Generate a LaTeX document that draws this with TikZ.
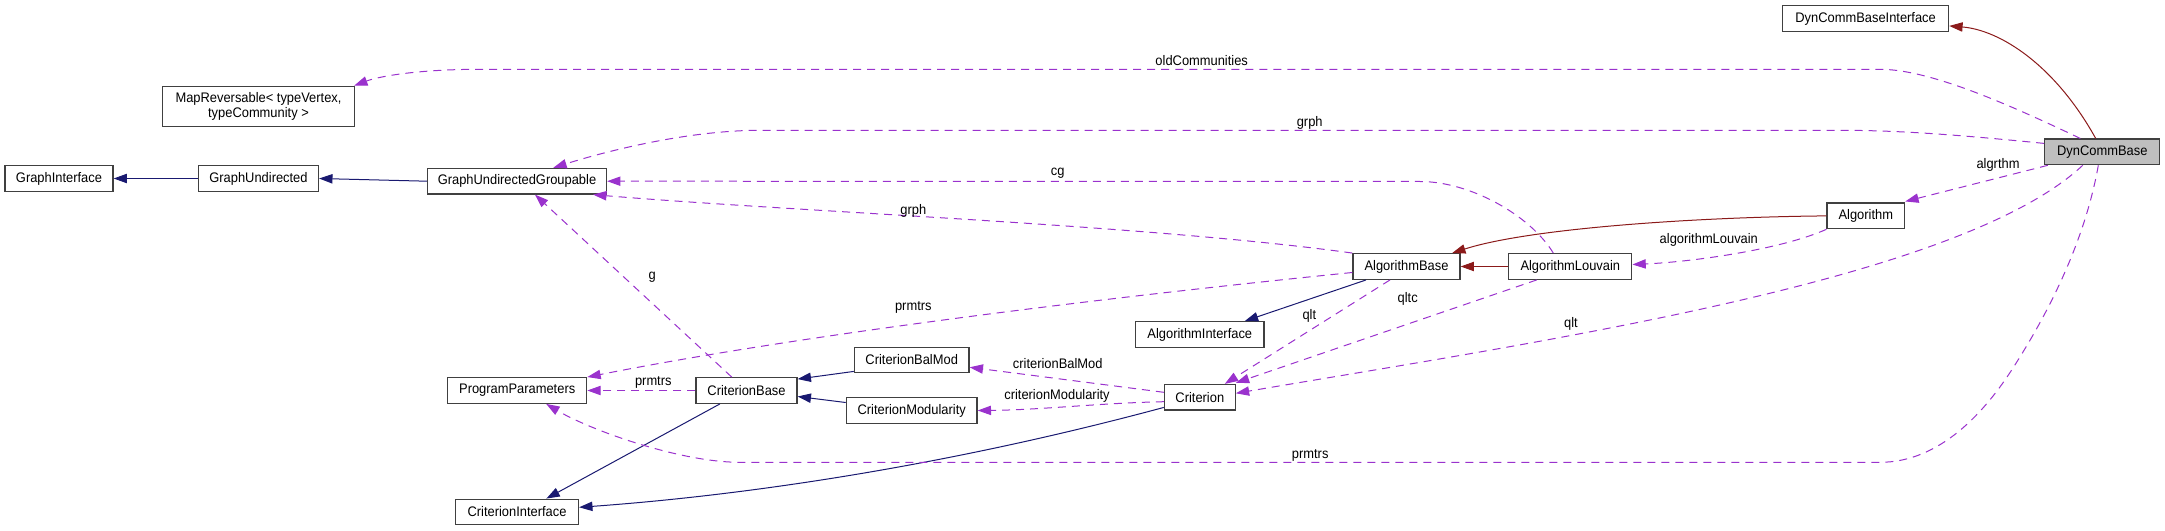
\documentclass[tikz,border=0pt]{standalone}
\usepackage{fontspec}
\setmainfont[FakeStretch=0.93]{Liberation Sans}
\usetikzlibrary{arrows.meta,calc}
\definecolor{inhblue}{HTML}{191970}
\definecolor{inhred}{HTML}{8B1A1A}
\definecolor{usecol}{HTML}{9A32CD}
\definecolor{bord}{HTML}{404040}
\definecolor{selfill}{HTML}{BFBFBF}
\begin{document}
\begin{tikzpicture}[x=0.75pt,y=-0.75pt,
  font=\fontsize{10.4}{11.6}\selectfont,
  cls/.style={draw=bord, line width=0.95pt, fill=white, inner sep=0pt, align=center, minimum height=19.2pt},
  tip/.style={-{Triangle[length=10pt,width=7pt]}},
  inhb/.style={draw=inhblue, line width=0.75pt, tip},
  inhr/.style={draw=inhred, line width=0.75pt, tip},
  usage/.style={draw=usecol, line width=0.75pt, dash pattern=on 6pt off 4.5pt, tip},
  lbl/.style={inner sep=0pt, text=black}]
\useasboundingbox (0,0) rectangle (2165,531);

% nodes
\node[cls, minimum width=124.5pt] (DCBI) at (1865.6,18.5) {DynCommBaseInterface};
\node[cls, minimum width=86.25pt, fill=selfill] (DCB) at (2102.3,151.9) {DynCommBase};
\node[cls, minimum width=144pt, minimum height=30.3pt] (MapRev) at (258.5,106.5) {MapReversable\textless{} typeVertex,\\ typeCommunity \textgreater};
\node[cls, minimum width=81pt] (GI) at (59,178.5) {GraphInterface};
\node[cls, minimum width=90pt] (GU) at (258.5,178.5) {GraphUndirected};
\node[cls, minimum width=134.25pt] (GUG) at (517,181.2) {GraphUndirectedGroupable};
\node[cls, minimum width=58.2pt] (Alg) at (1865.8,215.9) {Algorithm};
\node[cls, minimum width=80.25pt] (AB) at (1406.5,266.5) {AlgorithmBase};
\node[cls, minimum width=92.25pt] (AL) at (1570.3,266.5) {AlgorithmLouvain};
\node[cls, minimum width=96.3pt] (AI) at (1199.8,334.5) {AlgorithmInterface};
\node[cls, minimum width=86pt] (CBM) at (911.7,360) {CriterionBalMod};
\node[cls, minimum width=75.75pt] (CB) at (746.5,390.5) {CriterionBase};
\node[cls, minimum width=98pt] (CM) at (911.7,410.5) {CriterionModularity};
\node[cls, minimum width=53.1pt] (Crit) at (1199.8,397.3) {Criterion};
\node[cls, minimum width=104.25pt] (PP) at (517.2,390.5) {ProgramParameters};
\node[cls, minimum width=92.25pt] (CI) at (517,512) {CriterionInterface};

% inheritance
\draw[inhb] (GUG.west) -- (GU.east);
\draw[inhb] (GU.west) -- (GI.east);
\draw[inhr] ($(DCB.north)+(-6.6,0)$) .. controls (2055,65) and (2000,30) .. ($(DCBI.south east)+(0,-6)$);
\draw[inhr] (Alg.west) .. controls (1700,217) and (1530,228) .. ($(AB.north east)+(-8.5,0)$);
\draw[inhr] (AL.west) -- (AB.east);
\draw[inhb] ($(AB.south west)+(13.7,0)$) -- ($(AI.north)+(45,0)$);
\draw[inhb] ($(CBM.south west)+(0,-2)$) -- ($(CB.north east)+(0,2)$);
\draw[inhb] ($(CM.west)+(0,-8)$) -- ($(CB.east)+(0,6)$);
\draw[inhb] ($(CB.south west)+(24.5,0)$) -- ($(CI.north)+(29.4,0)$);
\draw[inhb] ($(Crit.south west)+(0,-3.3)$) .. controls (950,465) and (750,495) .. ($(CI.east)+(0,-4.7)$);

% usage
\draw[usage] ($(DCB.north)+(-22,0)$) .. controls (2010,105) and (1930,69.3) .. (1880,69.3)
  -- (480,69.3) .. controls (420,69.3) and (380,76) .. ($(MapRev.north east)+(-1,0)$);
\node[lbl] (lOld) at (1201.7,60.7) {oldCommunities};

\draw[usage] ($(DCB.west)+(0,-8.5)$) .. controls (1960,135) and (1900,130.3) .. (1840,130.3)
  -- (760,130.3) .. controls (690,130.3) and (610,150) .. ($(GUG.north)+(36.3,0)$);
\node[lbl] (lGrphA) at (1309.7,122.7) {grph};

\draw[usage] ($(AL.north)+(-17,0)$) .. controls (1530,215) and (1470,181.5) .. (1420,181.5) -- (GUG.east);
\node[lbl] (lCg) at (1057.7,173.3) {cg};

\draw[usage] (AB.north west) .. controls (1150,225) and (800,212) .. ($(GUG.south east)+(-14,0)$);
\node[lbl] (lGrphB) at (913.3,210.7) {grph};

\draw[usage] ($(CB.north)+(-14.8,0)$) -- ($(GUG.south)+(18,0)$);
\node[lbl] (lG) at (652.3,277.7) {g};

\draw[usage] ($(AB.west)+(0,6)$) .. controls (1100,298) and (800,335) .. (PP.north east);
\node[lbl] (lPrmA) at (913.3,307.7) {prmtrs};

\draw[usage] (CB.west) -- (PP.east);
\node[lbl] (lPrmB) at (653.3,382.7) {prmtrs};

\draw[usage] ($(DCB.south)+(-4,0)$) .. controls (2085,240) and (2050,310) .. (2013.8,366.7)
  .. controls (1985,412) and (1940,462.3) .. (1880,462.3)
  -- (740,462.3) .. controls (680,462.3) and (590,430) .. ($(PP.south)+(29,0)$);
\node[lbl] (lPrmC) at (1310.2,455) {prmtrs};

\draw[usage] ($(DCB.south west)+(3.6,0)$) -- ($(Alg.north east)+(0,-1)$);
\node[lbl] (lAlg) at (1998,164.7) {algrthm};

\draw[usage] (Alg.south west) .. controls (1780,250) and (1690,262) .. ($(AL.east)+(0,-2)$);
\node[lbl] (lAlgL) at (1708.8,240.3) {algorithmLouvain};

\draw[usage] ($(DCB.south)+(-19.6,0)$) .. controls (1960,280) and (1550,340) .. ($(Crit.east)+(0,-4)$);
\node[lbl] (lQltA) at (1571,324.3) {qlt};

\draw[usage] ($(AB.south)+(-16.5,0)$) -- ($(Crit.north)+(25,0)$);
\node[lbl] (lQltB) at (1309.3,316) {qlt};

\draw[usage] ($(AL.south)+(-33.6,0)$) -- ($(Crit.north east)+(0,-1)$);
\node[lbl] (lQltc) at (1407.7,299) {qltc};

\draw[usage] ($(Crit.west)+(0,-5)$) -- ($(CBM.east)+(0,7.3)$);
\node[lbl] (lCBM) at (1057.7,363.7) {criterionBalMod};

\draw[usage] ($(Crit.west)+(0,4.4)$) .. controls (1100,403) and (1040,410) .. (CM.east);
\node[lbl] (lCM) at (1057,396.3) {criterionModularity};
\end{tikzpicture}
\end{document}
